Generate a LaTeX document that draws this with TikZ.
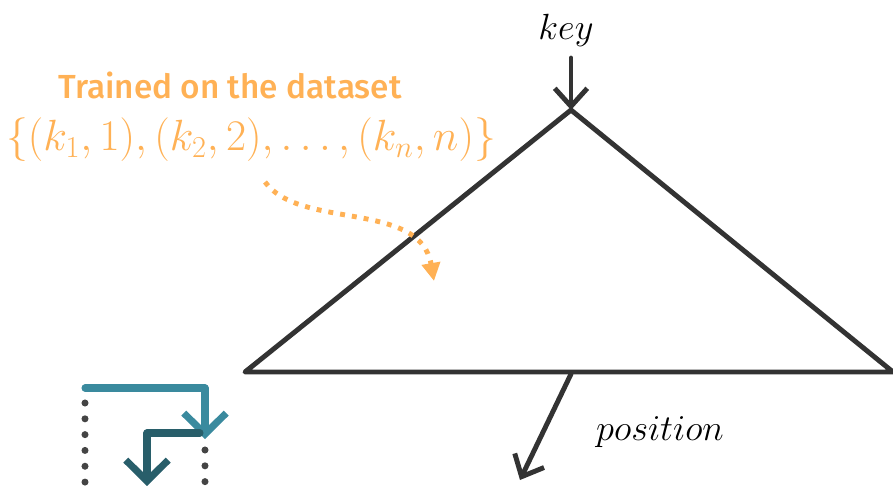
\documentclass[tikz,border=0pt]{standalone}
\usepackage{amsmath}
\usepackage{fontspec}
\usepackage{tikz}
\usetikzlibrary{arrows.meta,positioning,calc}
\newfontfamily\notefont{Fira Sans Medium}
\definecolor{ink}{HTML}{333333}
\definecolor{note}{HTML}{FFB155}
\definecolor{tealA}{HTML}{3A8A9E}
\definecolor{tealB}{HTML}{285E6A}
\definecolor{dotc}{HTML}{444444}

\begin{document}
\begin{tikzpicture}[
  x=0.02cm, y=-0.02cm,
  edge/.style={draw=ink, line width=2.8pt, line cap=round, line join=round},
  flow/.style={edge, -{Straight Barb[length=3.6mm, width=6.5mm, line width=2.8pt]}},
  lbl/.style={inner sep=0pt, font=\fontsize{21}{24}\selectfont},
  hint/.style={note, inner sep=0pt, align=center},
  step1/.style={line width=4pt, line cap=round, line join=round},
  dots/.style={dotc, line width=4pt, line cap=round, dash pattern=on 0pt off 9pt}
]
\useasboundingbox (0,0) rectangle (893,486);

% Model triangle
\coordinate (apex) at (571,110);
\coordinate (bl) at (245,372);
\coordinate (br) at (893,372);
\draw[edge] (bl) -- (apex) -- (br) -- cycle;

% Input key
\node[lbl] (key) at (566,30) {$key$};
\coordinate (keyin) at (571,58);
\draw[flow] (keyin) -- (apex);

% Output position
\coordinate (basemid) at (571,374);
\coordinate (posout) at (520,480);
\node[lbl] (pos) at (660,432) {$position$};
\draw[flow] (basemid) -- (posout);

% Training note
\node[hint, font=\notefont\fontsize{19}{22}\selectfont] (trained) at (230,85) {Trained on the dataset};
\node[hint, font=\fontsize{24}{28}\selectfont] (data) at (251,140)
  {$\{(k_1,1),(k_2,2),\ldots,(k_n,n)\}$};
\coordinate (hs) at (265,182);
\coordinate (he) at (434,281);
\draw[note, line width=2.8pt, dash pattern=on 2.8pt off 4pt,
      -{Triangle[length=3.6mm, width=3.6mm]}]
  (hs) .. controls (300,230) and (420,200) .. (he);

% Step icon
\coordinate (s1a) at (85,388);
\coordinate (s1b) at (205,388);
\coordinate (s1c) at (205,439);
\coordinate (s2a) at (200,433);
\coordinate (s2b) at (147,433);
\coordinate (s2c) at (147,486);
\draw[step1, tealA, -{Straight Barb[length=4.2mm, width=8.5mm, line width=4pt]}]
  (s1a) -- (s1b) -- (s1c);
\draw[step1, tealB, -{Straight Barb[length=4.2mm, width=8.5mm, line width=4pt]}]
  (s2a) -- (s2b) -- (s2c);
\draw[dots] (85,403) -- (85,490);
\draw[dots] (205,450) -- (205,490);

\end{tikzpicture}
\end{document}
